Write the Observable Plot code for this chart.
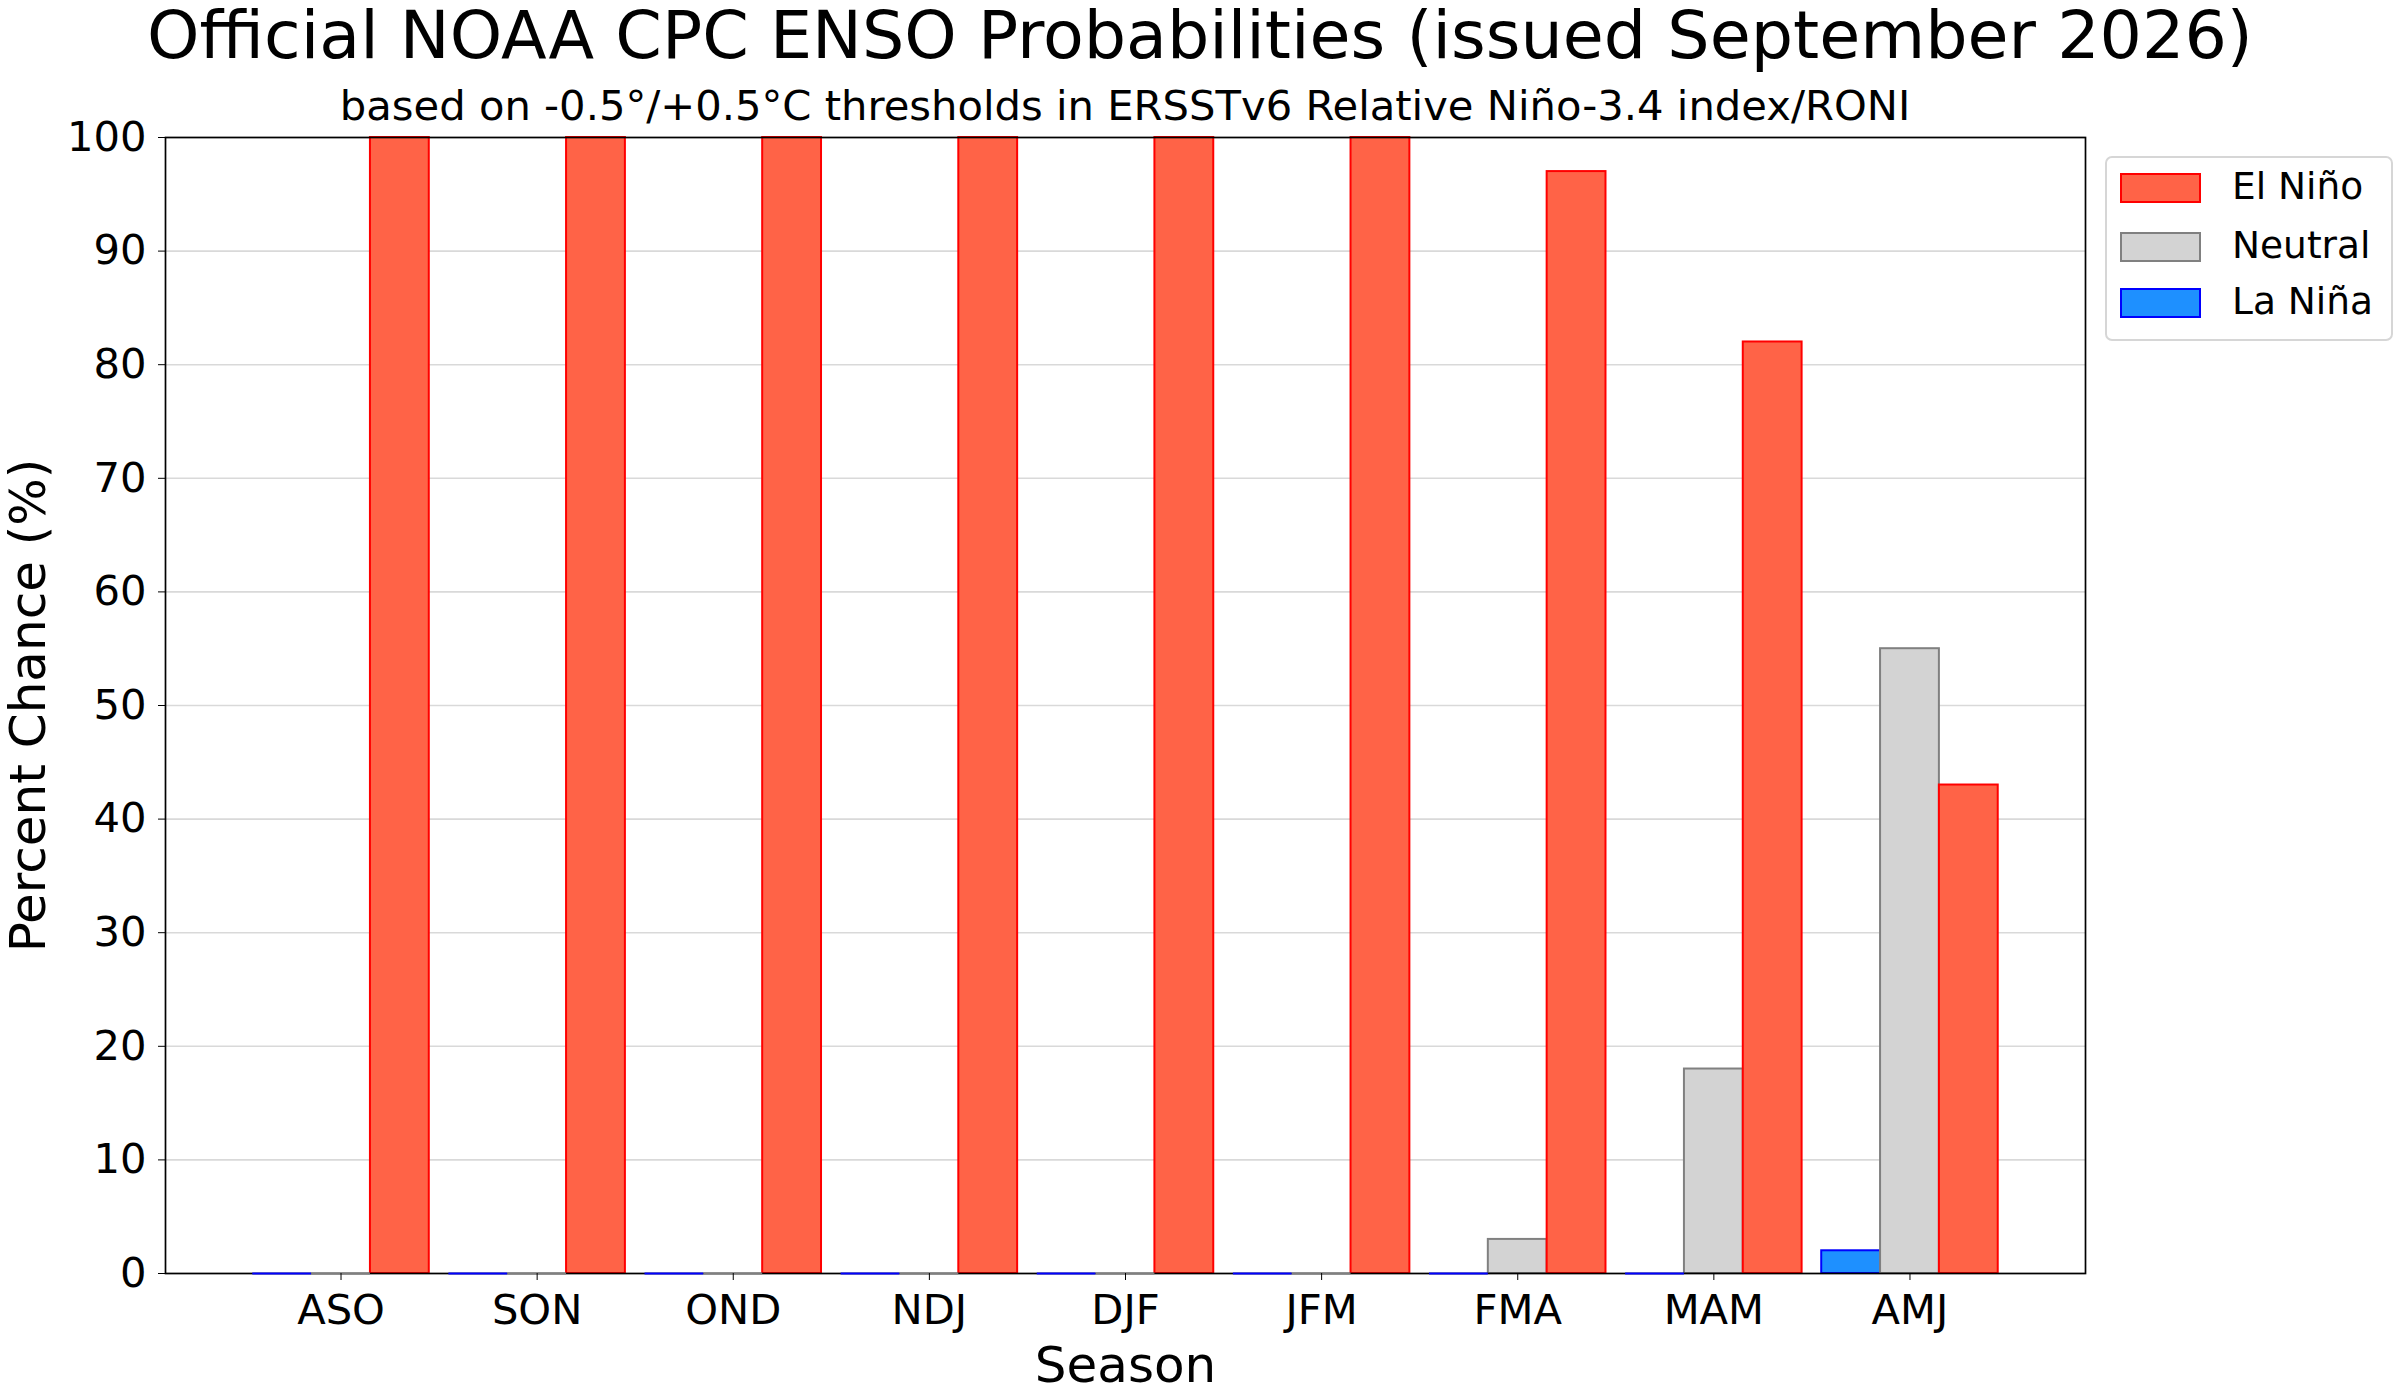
<!DOCTYPE html>
<html>
<head>
<meta charset="utf-8">
<script src="https://cdn.jsdelivr.net/npm/d3@7"></script>
<script src="https://cdn.jsdelivr.net/npm/@observablehq/plot@0.6"></script>
<style>
  html, body { margin: 0; padding: 0; background: white; }
  #wrap { position: relative; width: 2400px; height: 1400px; font-family: "DejaVu Sans", sans-serif; color: black; background: white; overflow: hidden; }
  #title { position: absolute; left: 0; width: 2400px; top: 1.5px; text-align: center; font-size: 66.7px; line-height: 1; white-space: nowrap; }
  #subtitle { position: absolute; left: 165px; width: 1920px; top: 84.7px; text-align: center; font-size: 41.7px; line-height: 1; white-space: nowrap; }
  #chart { position: absolute; left: 0; top: 130px; }
  #legend { position: absolute; left: 2105px; top: 156px; width: 284px; height: 181px; border: 2px solid #d6d6d6; border-radius: 7px; background: white; }
  .row { position: absolute; left: 0; height: 30px; }
  .sw { position: absolute; left: 13px; width: 77px; height: 26px; top: 0; border: 2px solid; }
  .lab { position: absolute; left: 125px; top: -5px; font-size: 37.5px; line-height: 1; white-space: nowrap; }
</style>
</head>
<body>
<div id="wrap">
  <div id="title"></div>
  <div id="subtitle"></div>
  <div id="chart"></div>
  <div id="legend"></div>
</div>
<script>
const titleText = "Official NOAA CPC ENSO Probabilities (issued September 2026)";
const subtitleText = "based on -0.5°/+0.5°C thresholds in ERSSTv6 Relative Niño-3.4 index/RONI";
const xLabel = "Season";
const yLabel = "Percent Chance (%)";

const seasons = ["ASO", "SON", "OND", "NDJ", "DJF", "JFM", "FMA", "MAM", "AMJ"];
const laNina  = [0, 0, 0, 0, 0, 0, 0, 0, 2];
const neutral = [0, 0, 0, 0, 0, 0, 3, 18, 55];
const elNino  = [100, 100, 100, 100, 100, 100, 97, 82, 43];
const yTicks  = [0, 10, 20, 30, 40, 50, 60, 70, 80, 90, 100];

const categories = ["La Niña", "Neutral", "El Niño"];
const legendOrder = ["El Niño", "Neutral", "La Niña"];
const fills   = {"La Niña": "#1e90ff", "Neutral": "#d3d3d3", "El Niño": "#ff6347"};
const strokes = {"La Niña": "#0000ff", "Neutral": "#808080", "El Niño": "#ff0000"};
const offsets = {"La Niña": -0.3, "Neutral": 0, "El Niño": 0.3};
const barWidth = 0.3;

const series = {"La Niña": laNina, "Neutral": neutral, "El Niño": elNino};

document.getElementById("title").textContent = titleText;
document.getElementById("subtitle").textContent = subtitleText;

const marks = [
  Plot.gridY(yTicks, {stroke: "#d9d9d9", strokeOpacity: 1, strokeWidth: 1.6})
];

for (const cat of categories) {
  const rows = seasons.map((s, i) => ({i, season: s, value: series[cat][i]}));
  const x1 = d => d.i + offsets[cat] - barWidth / 2;
  const x2 = d => d.i + offsets[cat] + barWidth / 2;
  marks.push(Plot.rectY(rows.filter(d => d.value > 0), {
    x1, x2, y1: 0, y2: "value", fill: fills[cat], stroke: strokes[cat], strokeWidth: 2
  }));
}

marks.push(Plot.frame({stroke: "black", strokeWidth: 1.7}));

for (const cat of categories) {
  const rows = seasons.map((s, i) => ({i, season: s, value: series[cat][i]}));
  const x1 = d => d.i + offsets[cat] - barWidth / 2;
  const x2 = d => d.i + offsets[cat] + barWidth / 2;
  marks.push(Plot.ruleY(rows.filter(d => d.value === 0), {
    y: "value", x1, x2, stroke: strokes[cat], strokeWidth: 1.8
  }));
}

marks.push(
  Plot.axisY(yTicks, {tickSize: 7, tickPadding: 12, label: null, fontSize: 41.7}),
  Plot.axisX(d3.range(seasons.length), {tickSize: 7, tickPadding: 14, label: null, tickFormat: i => seasons[i], fontSize: 41.7}),
  Plot.text([xLabel], {frameAnchor: "bottom", lineAnchor: "middle", textAnchor: "middle", dy: 92, text: d => d, fontSize: 50}),
  Plot.text([yLabel], {frameAnchor: "left", lineAnchor: "middle", textAnchor: "middle", dx: -137, rotate: -90, text: d => d, fontSize: 50})
);

const chart = Plot.plot({
  width: 2400,
  height: 1270,
  marginTop: 7,
  marginBottom: 127,
  marginLeft: 165,
  marginRight: 315,
  x: {domain: [-0.895, 8.895], axis: null},
  y: {domain: [0, 100], axis: null},
  style: {fontFamily: "DejaVu Sans", fontSize: "41.7px", background: "white", color: "black", overflow: "visible"},
  marks
});
document.getElementById("chart").appendChild(chart);

const legend = document.getElementById("legend");
const rowTops = [15, 74, 130];
legendOrder.forEach((cat, k) => {
  const row = document.createElement("div");
  row.className = "row";
  row.style.top = rowTops[k] + "px";
  const sw = document.createElement("div");
  sw.className = "sw";
  sw.style.background = fills[cat];
  sw.style.borderColor = strokes[cat];
  const lab = document.createElement("div");
  lab.className = "lab";
  lab.textContent = cat;
  row.appendChild(sw);
  row.appendChild(lab);
  legend.appendChild(row);
});
</script>
</body>
</html>
